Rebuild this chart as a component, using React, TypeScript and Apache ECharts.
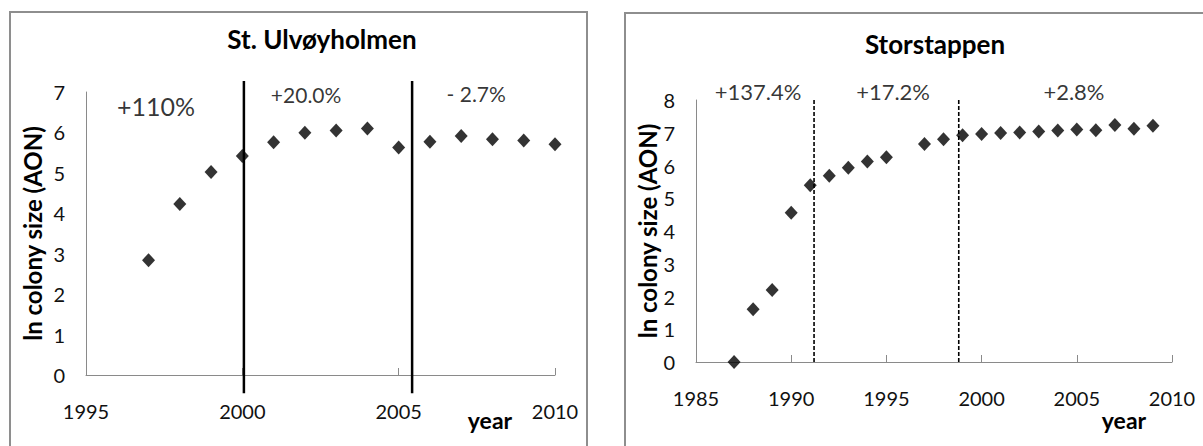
import React, { useEffect, useRef } from "react";
import * as echarts from "echarts";

// Left panel: St. Ulvøyholmen
const leftTitle = "St. Ulvøyholmen";
const leftYears = [1997, 1998, 1999, 2000, 2001, 2002, 2003, 2004, 2005, 2006, 2007, 2008, 2009, 2010];
const leftValues = [2.84, 4.23, 5.02, 5.42, 5.76, 5.99, 6.05, 6.1, 5.63, 5.77, 5.91, 5.83, 5.8, 5.71];
const leftBreaks = [2000.05, 2005.43];
const leftBreakRange = [-0.45, 7.27];
const leftNotes = ["+110%", "+20.0%", "- 2.7%"];
const leftNoteX = [1997.24, 2002.04, 2007.48];
const leftNoteY = [6.65, 6.95, 6.97];

// Right panel: Storstappen
const rightTitle = "Storstappen";
const rightYears = [1987, 1988, 1989, 1990, 1991, 1992, 1993, 1994, 1995, 1997, 1998, 1999, 2000, 2001, 2002, 2003, 2004, 2005, 2006, 2007, 2008, 2009];
const rightValues = [0.0, 1.61, 2.2, 4.56, 5.4, 5.69, 5.93, 6.12, 6.25, 6.66, 6.8, 6.92, 6.96, 6.99, 7.01, 7.04, 7.07, 7.1, 7.08, 7.24, 7.12, 7.21];
const rightBreaks = [1991.2, 1998.8];
const rightBreakRange = [0, 8];
const rightNotes = ["+137.4%", "+17.2%", "+2.8%"];
const rightNoteX = [1988.26, 1995.35, 2004.85];
const rightNoteY = [8.27, 8.27, 8.27];

const yName = "ln colony size (AON)";
const xName = "year";

const FONT = "Lato";
const AXIS = "#8a8a8a";

function App() {
  const ref = useRef<HTMLDivElement>(null);
  useEffect(() => {
    document.body.style.margin = "0";
    if (!ref.current) return;
    const chart = echarts.init(ref.current, undefined, { renderer: "svg" });

    const xAxisBase = (idx: number, min: number, max: number) => ({
      type: "value",
      gridIndex: idx,
      min,
      max,
      interval: 5,
      axisLine: { show: true, lineStyle: { color: AXIS, width: 1 } },
      axisTick: { show: true, inside: true, length: 7, lineStyle: { color: AXIS } },
      axisLabel: {
        margin: 26,
        fontSize: 20,
        color: "#111",
        fontFamily: FONT,
        formatter: (v: number) => String(v),
      },
      splitLine: { show: false },
    });
    const yAxisBase = (idx: number, max: number, gap: number) => ({
      type: "value",
      gridIndex: idx,
      min: 0,
      max,
      interval: 1,
      name: yName,
      nameLocation: "middle",
      nameRotate: 90,
      nameGap: gap,
      nameTextStyle: { fontSize: 24, fontWeight: "bold", color: "#000", fontFamily: FONT },
      axisLine: { show: true, lineStyle: { color: AXIS, width: 1 } },
      axisTick: { show: false },
      axisLabel: { margin: 21, fontSize: 20, color: "#111", fontFamily: FONT },
      splitLine: { show: false },
    });

    const breakSeries = (idx: number, xs: number[], range: number[], dashed: boolean) =>
      xs.map((x) => ({
        type: "line",
        xAxisIndex: idx,
        yAxisIndex: idx,
        data: [
          [x, range[0]],
          [x, range[1]],
        ],
        symbol: "none",
        clip: false,
        silent: true,
        lineStyle: dashed
          ? { color: "#000", width: 1.6, type: [4, 2] }
          : { color: "#000", width: 2.5 },
        z: 3,
      }));

    const noteSeries = (idx: number, names: string[], xs: number[], ys: number[], size: number) => ({
      type: "scatter",
      xAxisIndex: idx,
      yAxisIndex: idx,
      symbolSize: 0,
      clip: false,
      silent: true,
      data: names.map((n, i) => ({ name: n, value: [xs[i], ys[i]] })),
      label: {
        show: true,
        position: "inside",
        formatter: "{b}",
        fontSize: size,
        color: "#000",
        fontFamily: FONT,
        align: "center",
        verticalAlign: "middle",
      },
    });

    const pointSeries = (idx: number, xs: number[], vs: number[]) => ({
      type: "scatter",
      xAxisIndex: idx,
      yAxisIndex: idx,
      symbol: "diamond",
      symbolSize: [13, 14],
      clip: false,
      itemStyle: { color: "#000" },
      data: xs.map((x, i) => [x, vs[i]]),
      z: 4,
    });

    const bigText = (text: string, x: number, y: number, size: number) => ({
      type: "text",
      x,
      y,
      style: {
        text,
        fontSize: size,
        fontWeight: "bold",
        fontFamily: FONT,
        fill: "#000",
        align: "center",
        verticalAlign: "middle",
      },
    });

    chart.setOption({
      animation: false,
      backgroundColor: "#fff",
      grid: [
        { left: 86, top: 92, width: 469, height: 283 },
        { left: 696, top: 100, width: 476, height: 262 },
      ],
      xAxis: [xAxisBase(0, 1995, 2010), xAxisBase(1, 1985, 2010)],
      yAxis: [yAxisBase(0, 7, 42), yAxisBase(1, 8, 37)],
      graphic: [
        {
          type: "rect",
          shape: { x: 10, y: 12, width: 577, height: 460 },
          style: { fill: "none", stroke: "#8e8e8e", lineWidth: 2 },
          silent: true,
        },
        {
          type: "rect",
          shape: { x: 625, y: 13, width: 600, height: 460 },
          style: { fill: "none", stroke: "#8e8e8e", lineWidth: 2 },
          silent: true,
        },
        bigText(leftTitle, 322, 39, 26),
        bigText(rightTitle, 935, 44, 26),
        bigText(xName, 490, 420, 23),
        bigText(xName, 1124, 420, 23),
      ],
      series: [
        ...breakSeries(0, leftBreaks, leftBreakRange, false),
        ...breakSeries(1, rightBreaks, rightBreakRange, true),
        pointSeries(0, leftYears, leftValues),
        pointSeries(1, rightYears, rightValues),
        noteSeries(0, [leftNotes[0]], [leftNoteX[0]], [leftNoteY[0]], 25),
        noteSeries(0, leftNotes.slice(1), leftNoteX.slice(1), leftNoteY.slice(1), 21),
        noteSeries(1, rightNotes, rightNoteX, rightNoteY, 22),
      ],
    });
    return () => chart.dispose();
  }, []);
  return <div ref={ref} style={{ width: 1203, height: 446 }} />;
}

export default App;
